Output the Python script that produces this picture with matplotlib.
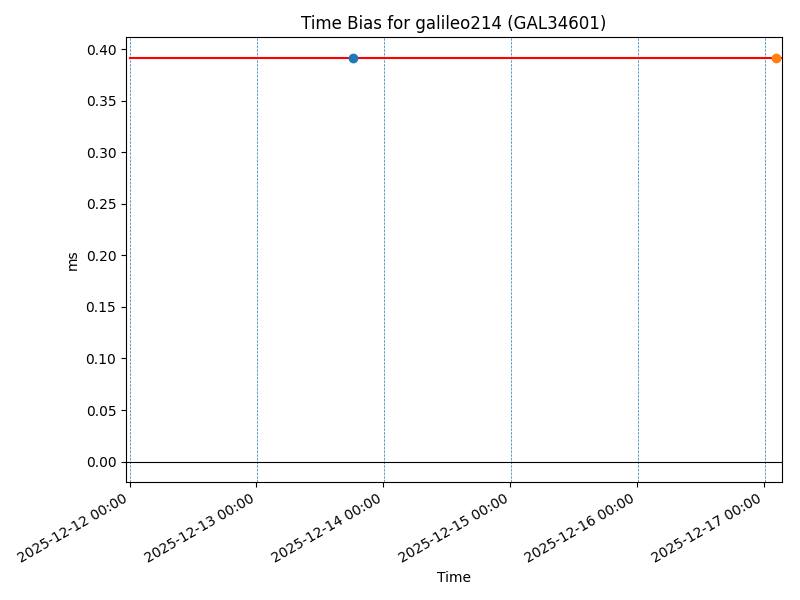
import numpy as np
import matplotlib
matplotlib.use("Agg")
import matplotlib.pyplot as plt
import matplotlib.dates as mdates
from datetime import datetime

# fitted time bias (ms), constant over the window
bias_ms = 0.3915
line_start = datetime(2025, 12, 12, 0, 10)
line_end = datetime(2025, 12, 17, 3, 30)

# observed points
obs_times = [datetime(2025, 12, 13, 18, 20)]
obs_vals = [0.3915]
pred_times = [datetime(2025, 12, 17, 2, 15)]
pred_vals = [0.3915]

day_marks = [datetime(2025, 12, d, 0, 5) for d in range(12, 18)]

fig, ax = plt.subplots(figsize=(8, 6), dpi=100)

for d in day_marks:
    ax.axvline(d, color="C0", linestyle="--", linewidth=0.5)
ax.axhline(0, color="black", linewidth=0.8)

ax.plot([line_start, line_end], [bias_ms, bias_ms], color="red")
ax.plot(obs_times, obs_vals, "o", color="C0")
ax.plot(pred_times, pred_vals, "o", color="C1")

ax.set_xlim(datetime(2025, 12, 11, 23, 20), datetime(2025, 12, 17, 3, 20))
ax.set_ylim(-0.0196, 0.4116)
ax.xaxis.set_major_locator(mdates.DayLocator())
ax.xaxis.set_major_formatter(mdates.DateFormatter("%Y-%m-%d %H:%M"))
ax.set_title("Time Bias for galileo214 (GAL34601)")
ax.set_xlabel("Time")
ax.set_ylabel("ms")
fig.autofmt_xdate()
fig.subplots_adjust(left=0.1575, right=0.9775, top=0.938, bottom=0.197)

fig.savefig("out.png")
